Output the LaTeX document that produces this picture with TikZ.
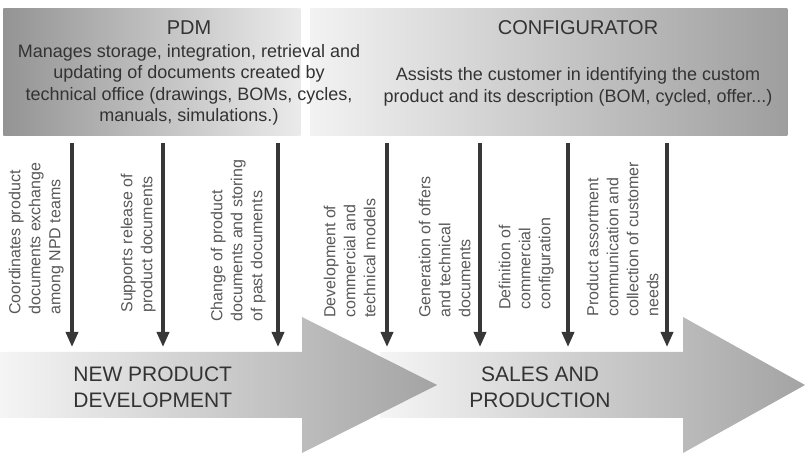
\documentclass[tikz,border=0pt]{standalone}
\usepackage{fontspec}
\setmainfont{Liberation Sans}
\usepackage{xcolor}
\usepackage{tikz}
\usetikzlibrary{arrows.meta, positioning}
\definecolor{pdtext}{RGB}{51,51,51}
\definecolor{pdnote}{RGB}{88,88,88}
\definecolor{pdline}{RGB}{55,55,55}

\begin{document}
\begin{tikzpicture}[
    x=0.5pt,
    y=-0.5pt,
    toolbox/.style={minimum height=63.5pt, inner sep=0pt, anchor=north west},
    boxtitle/.style={font=\fontsize{10}{12}\selectfont, text=pdtext},
    desc/.style={font=\fontsize{9}{10.75}\selectfont, text=pdtext, align=center},
    task/.style={rotate=90, anchor=south west, inner sep=0pt, align=left, font=\fontsize{8}{10}\selectfont, text=pdnote},
    phase/.style={font=\fontsize{10.5}{13}\selectfont, text=pdtext, inner sep=0pt},
    arrow/.style={-{Triangle[length=7.5pt, width=6pt]}, line width=1.75pt, draw=pdline},
    flow/.style={left color=black!4, right color=black!36}
]
\useasboundingbox (0,0) rectangle (807,453);
\node[toolbox, minimum width=148.5pt, left color=black!42, right color=black!8] (pdm) at (3,8) {};
\node[toolbox, minimum width=238.5pt, left color=black!5, right color=black!38] (config) at (310,8) {};
\node[boxtitle] (pdmtitle) at (189,28) {PDM};
\node[desc] (pdmdesc) at (189,85) {Manages storage, integration, retrieval and\\updating of documents created by\\technical office (drawings, BOMs, cycles,\\manuals, simulations.)};
\node[boxtitle] (conftitle) at (578,28) {CONFIGURATOR};
\node[desc] (confdesc) at (578,87) {Assists the customer in identifying the custom\\product and its description (BOM, cycled, offer...)};
\shade[flow] (380,352) -- (683,352) -- (683,317) -- (805,385) -- (683,453) -- (683,418) -- (380,418) -- cycle;
\shade[flow] (0,352) -- (302,352) -- (302,317) -- (437,385) -- (302,453) -- (302,418) -- (0,418) -- cycle;
\node[phase, anchor=west, align=left] (npd) at (73,387) {NEW PRODUCT\\DEVELOPMENT};
\node[phase, align=center] (sales) at (540,387) {SALES AND\\PRODUCTION};
\node[task] (exchange) at (64,315) {Coordinates product\\documents exchange\\among NPD teams};
\node[task] (release) at (156,313) {Supports release of\\product documents};
\node[task] (change) at (266,322) {Change of product\\documents and storing\\of past documents};
\node[task] (models) at (376,318) {Development of\\commercial and\\technical models};
\node[task] (offers) at (471,318) {Generation of offers\\and technical\\documents};
\node[task] (definition) at (554,310) {Definition of\\commercial\\configuration};
\node[task] (assortment) at (659,317) {Product assortment\\communication and\\collection of customer\\needs};
\coordinate (exchtop) at (72,143);
\coordinate (exchtip) at (72,347);
\coordinate (reltop) at (163,143);
\coordinate (reltip) at (163,347);
\coordinate (chgtop) at (278,143);
\coordinate (chgtip) at (278,347);
\coordinate (modtop) at (387,143);
\coordinate (modtip) at (387,347);
\coordinate (offtop) at (480,143);
\coordinate (offtip) at (480,347);
\coordinate (deftop) at (568,143);
\coordinate (deftip) at (568,347);
\coordinate (asstop) at (667,143);
\coordinate (asstip) at (667,347);
\draw[arrow] (exchtop) -- (exchtip);
\draw[arrow] (reltop) -- (reltip);
\draw[arrow] (chgtop) -- (chgtip);
\draw[arrow] (modtop) -- (modtip);
\draw[arrow] (offtop) -- (offtip);
\draw[arrow] (deftop) -- (deftip);
\draw[arrow] (asstop) -- (asstip);
\end{tikzpicture}
\end{document}
